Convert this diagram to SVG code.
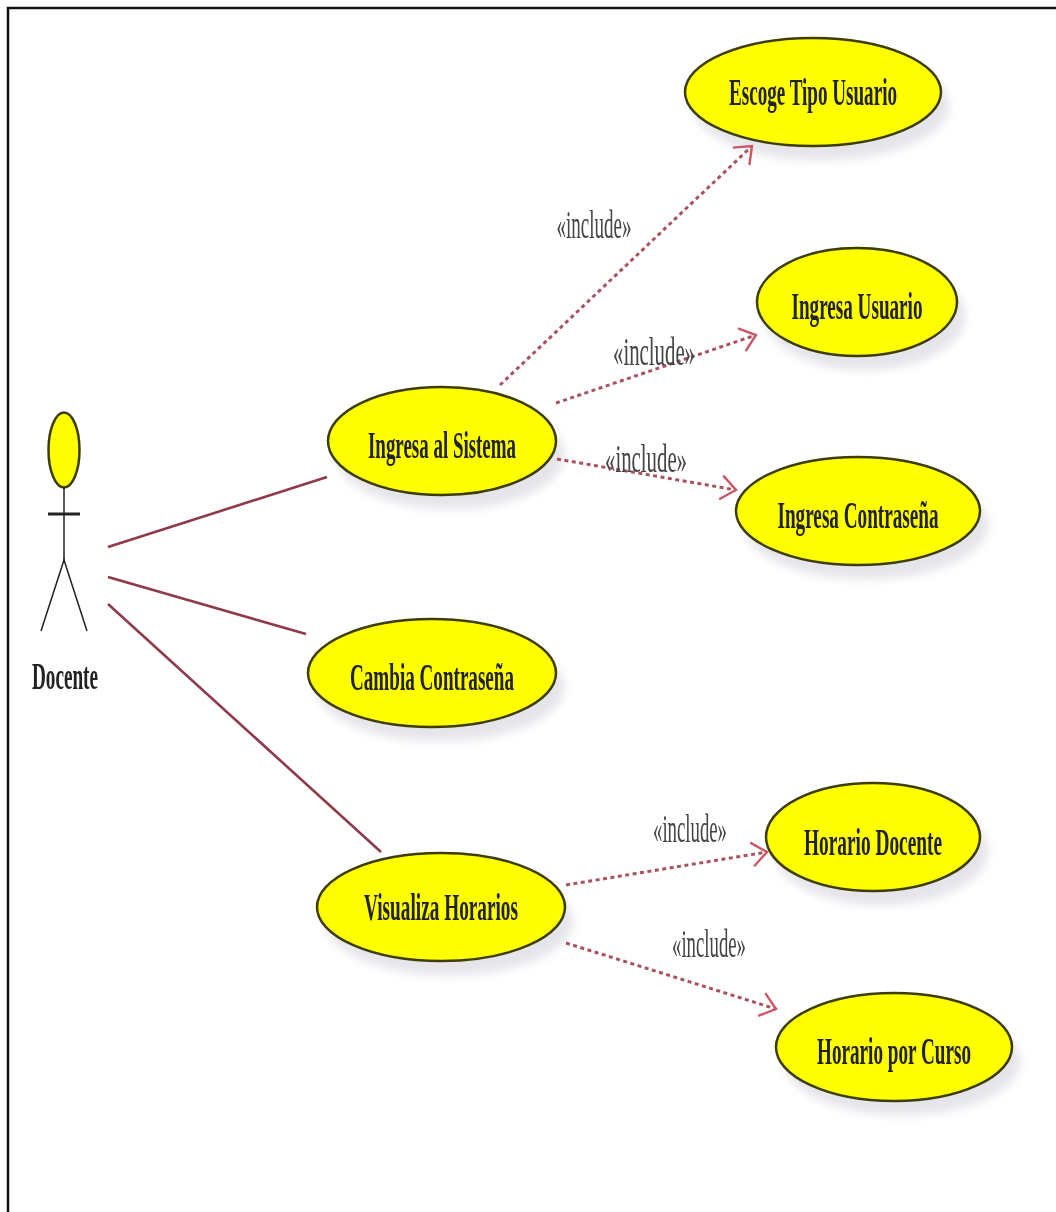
<svg xmlns="http://www.w3.org/2000/svg" width="1056" height="1212" viewBox="0 0 1056 1212">
<defs>
<marker id="open" markerUnits="userSpaceOnUse" markerWidth="32" markerHeight="32" refX="20" refY="14" orient="auto" viewBox="0 0 32 28"><path d="M5 2 L20 14 L5 26" fill="none" stroke="#cc5666" stroke-width="2.4"/></marker>
<filter id="soft" x="-20%" y="-20%" width="140%" height="150%"><feGaussianBlur stdDeviation="5"/></filter>
<filter id="blur1" x="-10%" y="-30%" width="120%" height="160%"><feGaussianBlur stdDeviation="0.45"/></filter>
</defs>
<style>
.uc{fill:#ffff00;stroke:#3d3d00;stroke-width:2.5}
.sh{fill:#e4e4ea;filter:url(#soft)}
.t{font-family:"Liberation Serif",serif;font-weight:bold;font-size:38px;fill:#222;text-anchor:middle;filter:url(#blur1)}
.inc{font-family:"Liberation Serif",serif;font-size:40px;fill:#444;text-anchor:middle;filter:url(#blur1)}
.assoc{stroke:#8e3a4a;stroke-width:2.6;fill:none}
.dep{stroke:#a85262;stroke-width:3;stroke-dasharray:4 3.5;fill:none;marker-end:url(#open)}
.ln{stroke:#222;stroke-width:1.5;fill:none}
</style>
<rect width="1056" height="1212" fill="#fff"/>
<path d="M8 1212 V8 H1056" fill="none" stroke="#111" stroke-width="2.5"/>
<g id="actor-docente">
<ellipse class="uc" cx="64" cy="450" rx="15.5" ry="37.5"/>
<line class="ln" x1="64" y1="488" x2="64" y2="560"/>
<line x1="48" y1="514" x2="80" y2="514" stroke="#222" stroke-width="3"/>
<path class="ln" d="M41 631 L64 560 L87 631"/>
<text class="t" transform="translate(65 689) scale(.5 1)" textLength="132" lengthAdjust="spacingAndGlyphs">Docente</text>
</g>
<g id="uc-escoge"><ellipse class="sh" cx="821" cy="106" rx="128" ry="54"/><ellipse class="uc" cx="813" cy="92" rx="128" ry="54"/><text class="t" transform="translate(813 105) scale(.5 1)" textLength="336" lengthAdjust="spacingAndGlyphs">Escoge Tipo Usuario</text></g>
<g id="uc-ingresa-usuario"><ellipse class="sh" cx="865" cy="316" rx="100" ry="54"/><ellipse class="uc" cx="857" cy="302" rx="100" ry="54"/><text class="t" transform="translate(857 319) scale(.5 1)" textLength="262" lengthAdjust="spacingAndGlyphs">Ingresa Usuario</text></g>
<g id="uc-ingresa-sistema"><ellipse class="sh" cx="450" cy="455" rx="114" ry="54"/><ellipse class="uc" cx="442" cy="441" rx="114" ry="54"/><text class="t" transform="translate(442 458) scale(.5 1)" textLength="296" lengthAdjust="spacingAndGlyphs">Ingresa al Sistema</text></g>
<g id="uc-ingresa-contrasena"><ellipse class="sh" cx="866" cy="525" rx="122" ry="54"/><ellipse class="uc" cx="858" cy="511" rx="122" ry="54"/><text class="t" transform="translate(858 528) scale(.5 1)" textLength="322" lengthAdjust="spacingAndGlyphs">Ingresa Contraseña</text></g>
<g id="uc-cambia"><ellipse class="sh" cx="440" cy="687" rx="124" ry="54"/><ellipse class="uc" cx="432" cy="673" rx="124" ry="54"/><text class="t" transform="translate(432 690) scale(.5 1)" textLength="328" lengthAdjust="spacingAndGlyphs">Cambia Contraseña</text></g>
<g id="uc-horario-docente"><ellipse class="sh" cx="881" cy="851" rx="107" ry="54"/><ellipse class="uc" cx="873" cy="837" rx="107" ry="54"/><text class="t" transform="translate(873 855) scale(.5 1)" textLength="276" lengthAdjust="spacingAndGlyphs">Horario Docente</text></g>
<g id="uc-visualiza"><ellipse class="sh" cx="449" cy="921" rx="124" ry="54"/><ellipse class="uc" cx="441" cy="907" rx="124" ry="54"/><text class="t" transform="translate(441 920) scale(.5 1)" textLength="308" lengthAdjust="spacingAndGlyphs">Visualiza Horarios</text></g>
<g id="uc-horario-curso"><ellipse class="sh" cx="902" cy="1061" rx="118" ry="54"/><ellipse class="uc" cx="894" cy="1047" rx="118" ry="54"/><text class="t" transform="translate(894 1064) scale(.5 1)" textLength="308" lengthAdjust="spacingAndGlyphs">Horario por Curso</text></g>
<g id="connectors">
<line class="assoc" x1="108" y1="547" x2="327" y2="477"/>
<line class="assoc" x1="108" y1="577" x2="306" y2="634"/>
<line class="assoc" x1="108" y1="604" x2="381" y2="852"/>
<line class="dep" x1="500" y1="385" x2="752" y2="146"/>
<line class="dep" x1="556" y1="403" x2="756" y2="335"/>
<line class="dep" x1="557" y1="459" x2="736" y2="490"/>
<line class="dep" x1="566" y1="885" x2="767" y2="852"/>
<line class="dep" x1="566" y1="943" x2="776" y2="1009"/>
<text class="inc" transform="translate(594 238) scale(.5 1)" textLength="150" lengthAdjust="spacingAndGlyphs">«include»</text>
<text class="inc" transform="translate(654 365) scale(.5 1)" textLength="164" lengthAdjust="spacingAndGlyphs">«include»</text>
<text class="inc" transform="translate(646 472) scale(.5 1)" textLength="164" lengthAdjust="spacingAndGlyphs">«include»</text>
<text class="inc" transform="translate(690 842) scale(.5 1)" textLength="148" lengthAdjust="spacingAndGlyphs">«include»</text>
<text class="inc" transform="translate(709 957) scale(.5 1)" textLength="148" lengthAdjust="spacingAndGlyphs">«include»</text>
</g>
</svg>
